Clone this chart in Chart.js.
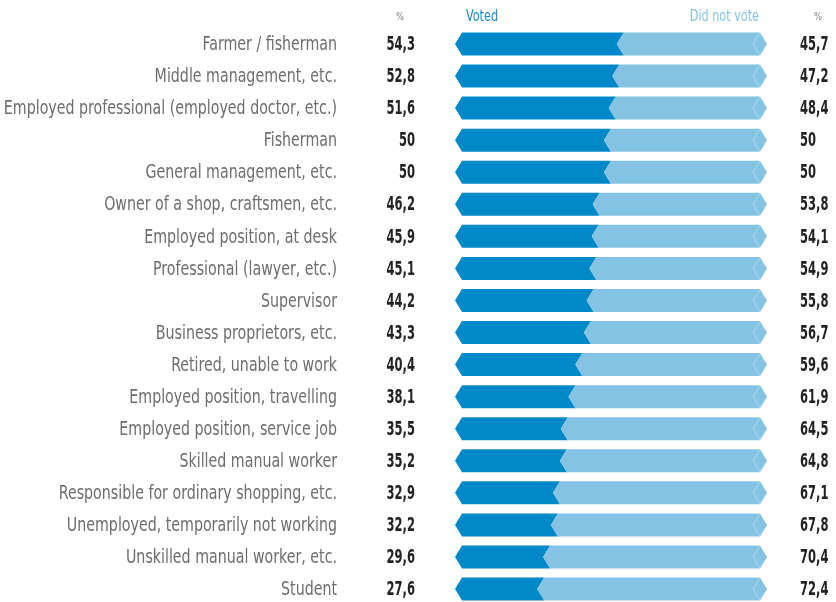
<!DOCTYPE html>
<html>
<head>
<meta charset="utf-8">
<script src="https://cdn.jsdelivr.net/npm/chart.js@4.4.0/dist/chart.umd.min.js"></script>
<style>
  html, body { margin: 0; padding: 0; background: #fff; }
  #wrap { position: relative; width: 836px; height: 602px; }
</style>
</head>
<body>
<div id="wrap"><canvas id="chart"></canvas></div>
<script>
const categories = [
  'Farmer / fisherman',
  'Middle management, etc.',
  'Employed professional (employed doctor, etc.)',
  'Fisherman',
  'General management, etc.',
  'Owner of a shop, craftsmen, etc.',
  'Employed position, at desk',
  'Professional (lawyer, etc.)',
  'Supervisor',
  'Business proprietors, etc.',
  'Retired, unable to work',
  'Employed position, travelling',
  'Employed position, service job',
  'Skilled manual worker',
  'Responsible for ordinary shopping, etc.',
  'Unemployed, temporarily not working',
  'Unskilled manual worker, etc.',
  'Student'
];
const voted = [54.3, 52.8, 51.6, 50, 50, 46.2, 45.9, 45.1, 44.2, 43.3, 40.4, 38.1, 35.5, 35.2, 32.9, 32.2, 29.6, 27.6];
const didNotVote = [45.7, 47.2, 48.4, 50, 50, 53.8, 54.1, 54.9, 55.8, 56.7, 59.6, 61.9, 64.5, 64.8, 67.1, 67.8, 70.4, 72.4];

const DARK = '#0089c9';
const LIGHT = '#84c3e3';
const FONT = '"DejaVu Sans Condensed", "DejaVu Sans", sans-serif';

const fmt = v => String(v).replace('.', ',');

// draw text squeezed horizontally to get the condensed look
function text(ctx, str, x, y, align, font, color, sx) {
  ctx.save();
  ctx.font = font;
  ctx.fillStyle = color;
  ctx.textAlign = align;
  ctx.textBaseline = 'middle';
  ctx.translate(x, y);
  ctx.scale(sx, 1);
  ctx.fillText(str, 0, 0);
  ctx.restore();
}

const hexBars = {
  id: 'hexBars',
  beforeDatasetDraw: () => false,
  afterDatasetsDraw(chart) {
    const ctx = chart.ctx;
    const m0 = chart.getDatasetMeta(0).data;
    const m1 = chart.getDatasetMeta(1).data;
    const c = 7;
    ctx.save();
    m0.forEach((bar, i) => {
      const y = bar.y, h = bar.height;
      const top = y - h / 2, bot = y + h / 2;
      const x0 = bar.base, xb = bar.x, x1 = m1[i].x;

      // voted part
      ctx.beginPath();
      ctx.moveTo(x0, top);
      ctx.lineTo(xb, top);
      ctx.lineTo(xb - c, y);
      ctx.lineTo(xb, bot);
      ctx.lineTo(x0, bot);
      ctx.lineTo(x0 - c, y);
      ctx.closePath();
      ctx.fillStyle = DARK;
      ctx.fill();

      // did not vote part
      ctx.beginPath();
      ctx.moveTo(xb, top);
      ctx.lineTo(x1, top);
      ctx.lineTo(x1 + c, y);
      ctx.lineTo(x1, bot);
      ctx.lineTo(xb, bot);
      ctx.lineTo(xb - c, y);
      ctx.closePath();
      ctx.fillStyle = LIGHT;
      ctx.fill();

      // faint chevron at the right tip
      ctx.beginPath();
      ctx.moveTo(x1, top);
      ctx.lineTo(x1 - c, y);
      ctx.lineTo(x1, bot);
      ctx.strokeStyle = 'rgba(255,255,255,0.35)';
      ctx.lineWidth = 1;
      ctx.stroke();

      // labels and values
      text(ctx, categories[i], 337, y + 1, 'right', '20px ' + FONT, '#6d6d6d', 0.79);
      text(ctx, fmt(voted[i]), 415, y + 1, 'right', 'bold 20px ' + FONT, '#222222', 0.64);
      text(ctx, fmt(didNotVote[i]), 800, y + 1, 'left', 'bold 20px ' + FONT, '#222222', 0.64);
    });

    // header row
    const hy = 17;
    text(ctx, '%', 400, hy, 'center', '11px ' + FONT, '#7a7a7a', 0.85);
    text(ctx, '%', 818, hy, 'center', '11px ' + FONT, '#7a7a7a', 0.85);
    text(ctx, 'Voted', chart.chartArea.left + 4, hy, 'left', '16px ' + FONT, '#1a8ccb', 0.78);
    text(ctx, 'Did not vote', chart.chartArea.right - 1, hy, 'right', '16px ' + FONT, '#86c4e4', 0.78);
    ctx.restore();
  }
};

new Chart(document.getElementById('chart'), {
  type: 'bar',
  data: {
    labels: categories,
    datasets: [
      { label: 'Voted', data: voted, backgroundColor: DARK, barThickness: 23 },
      { label: 'Did not vote', data: didNotVote, backgroundColor: LIGHT, barThickness: 23 }
    ]
  },
  options: {
    indexAxis: 'y',
    responsive: true,
    maintainAspectRatio: false,
    animation: false,
    layout: { padding: { left: 462, right: 76, top: 44, bottom: 13 } },
    scales: {
      x: { stacked: true, min: 0, max: 100, display: false },
      y: { stacked: true, offset: false, display: false }
    },
    plugins: {
      legend: { display: false },
      tooltip: { enabled: false }
    }
  },
  plugins: [hexBars]
});
</script>
</body>
</html>
